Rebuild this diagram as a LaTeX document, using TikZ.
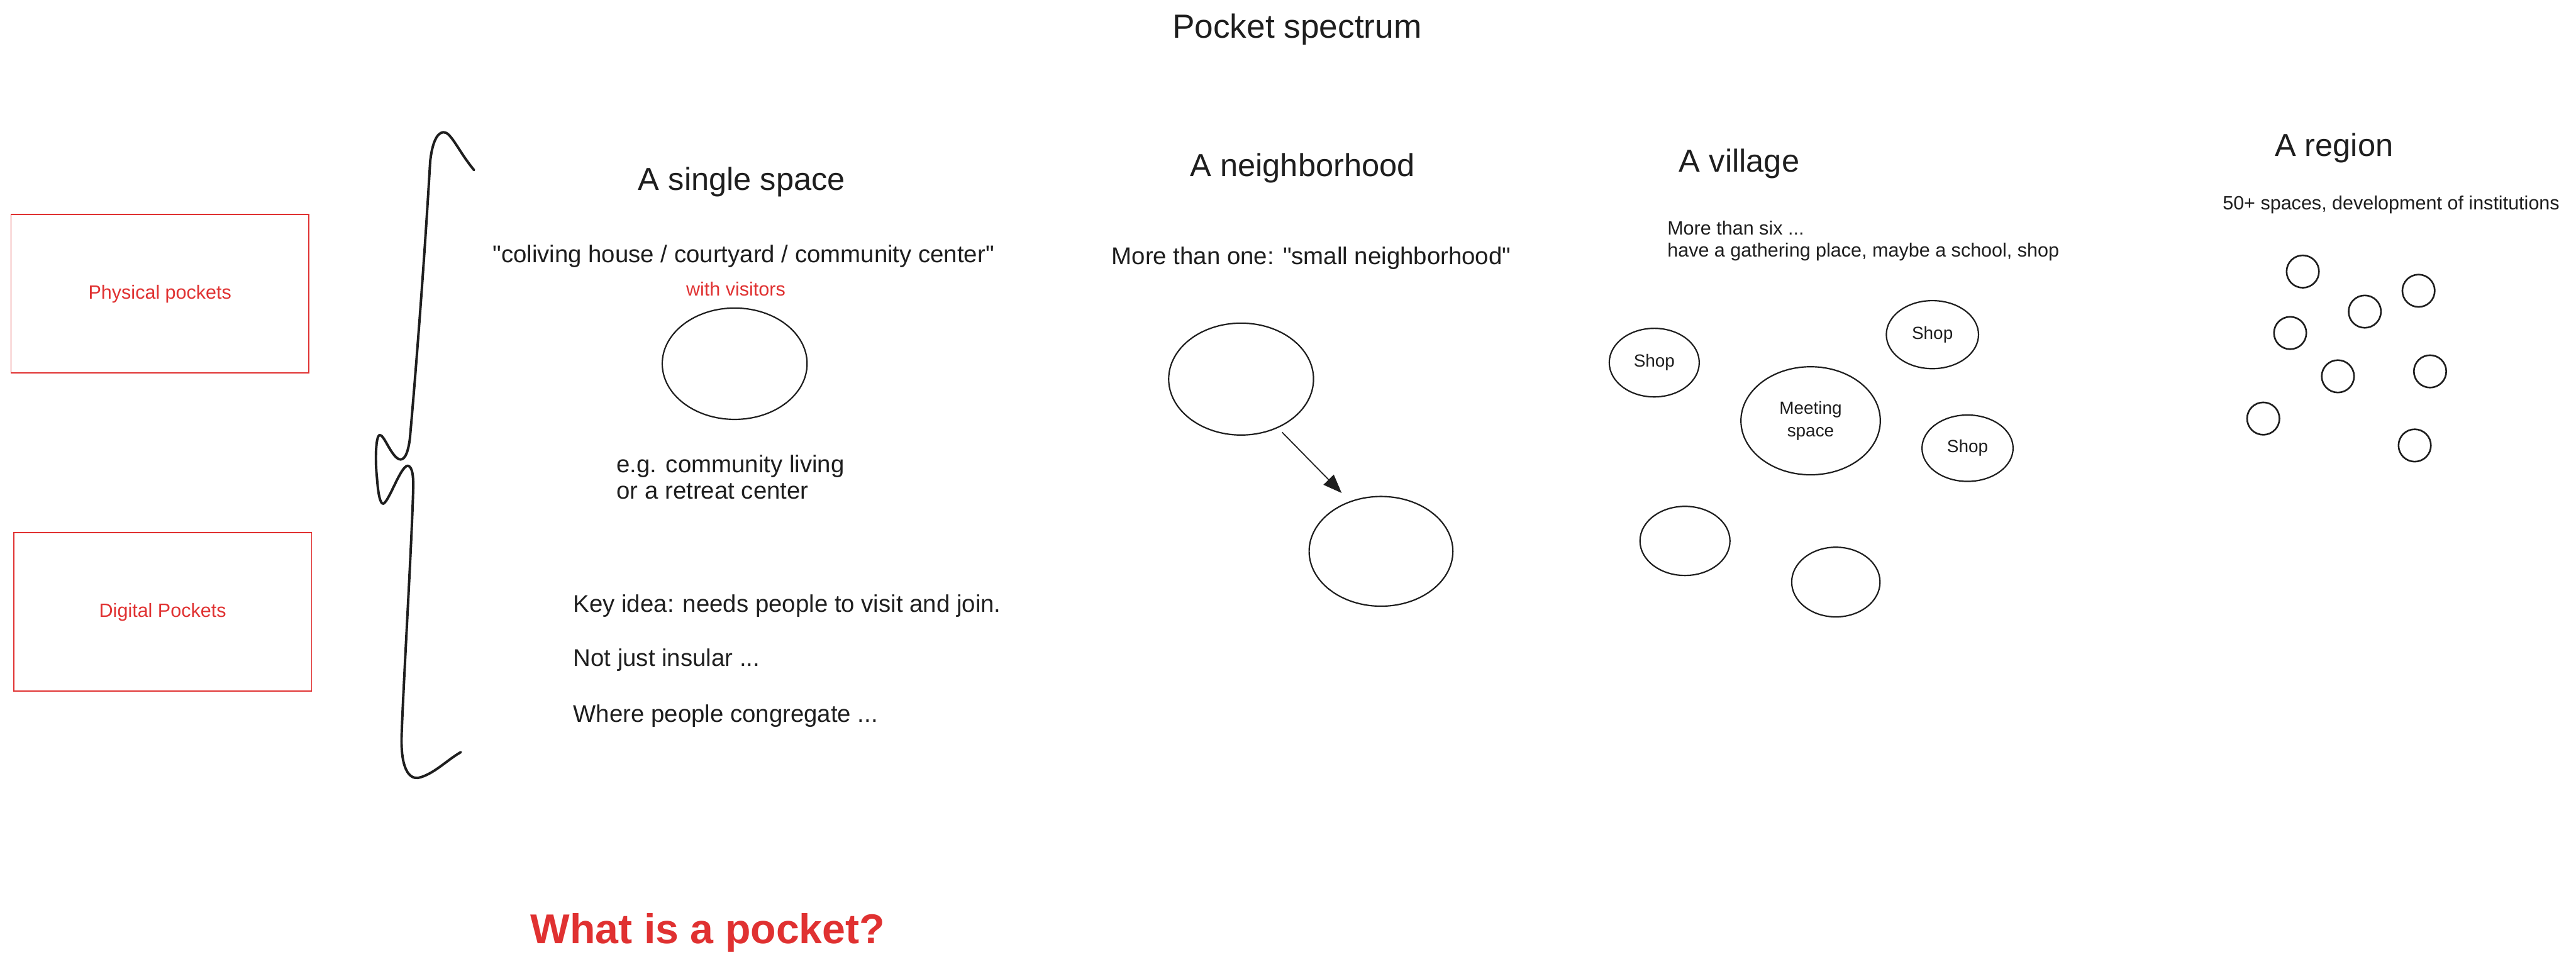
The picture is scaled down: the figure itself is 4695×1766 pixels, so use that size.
\documentclass[tikz,border=0pt]{standalone}
\usepackage{fontspec}
\setmainfont{Liberation Sans}
\usetikzlibrary{shapes.geometric,arrows.meta}
\definecolor{inkc}{HTML}{1E1E1E}
\definecolor{redc}{HTML}{E03131}
\newcommand{\sq}{\XeTeXglyph\XeTeXcharglyph"22\relax}
\tikzset{
  txt/.style={inner sep=0pt, outer sep=0pt, text=inkc},
  titletxt/.style={txt, font=\fontsize{61}{70}\selectfont, text height=44pt, text depth=13pt},
  headtxt/.style={txt, font=\fontsize{58}{66}\selectfont, text height=42pt, text depth=12pt},
  bodytxt/.style={txt, font=\fontsize{44}{50}\selectfont, text height=32pt, text depth=10pt},
  smalltxt/.style={txt, font=\fontsize{35}{40}\selectfont, text height=25pt, text depth=8pt},
  redtxt/.style={text=redc},
  redbox/.style={rectangle, draw=redc, line width=2pt, text=redc, font=\fontsize{35}{40}\selectfont, inner sep=0pt, minimum width=543pt, minimum height=289pt},
  blob/.style={ellipse, draw=inkc, line width=2.5pt, inner sep=0pt, text=inkc, font=\fontsize{32}{41}\selectfont, align=center},
  regdot/.style={circle, draw=inkc, line width=3pt, inner sep=0pt, minimum size=59pt},
  bracestroke/.style={draw=inkc, line width=4.5pt, line cap=round, line join=round},
  linkarrow/.style={draw=inkc, line width=2pt, -{Triangle[length=34pt,width=26pt]}},
}
\begin{document}
\begin{tikzpicture}[x=1pt,y=-1pt]
\fill[white] (0,0) rectangle (4695,1766);
\useasboundingbox (0,0) rectangle (4695,1766);

% title
\node[titletxt] (title) at (2364,54) {Pocket spectrum};

% left boxes
\node[redbox] (phys) at (291.5,535.5) {Physical pockets};
\node[redbox] (digi) at (296.5,1115.5) {Digital Pockets};

% brace
\draw[bracestroke] (864,310) .. controls (835,275) and (822,240) .. (808,241)
  .. controls (795,242) and (787,265) .. (784,295)
  .. controls (772,500) and (756,700) .. (747,800)
  .. controls (743,830) and (736,840) .. (727,837)
  .. controls (712,830) and (700,792) .. (692,793)
  .. controls (684,795) and (684,845) .. (687,870)
  .. controls (689,900) and (693,920) .. (699,918)
  .. controls (710,912) and (730,850) .. (743,849)
  .. controls (752,850) and (754,870) .. (753,895)
  .. controls (750,1000) and (735,1250) .. (732,1340)
  .. controls (730,1400) and (745,1420) .. (762,1418)
  .. controls (790,1412) and (815,1385) .. (840,1371);

% single space
\node[headtxt] (h1) at (1352,332) {A single space};
\node[bodytxt] (t1) at (1355,467) {\sq coliving house / courtyard / community center\sq};
\node[smalltxt, redtxt] (t2) at (1341,531) {with visitors};
\node[blob, minimum width=264pt, minimum height=203pt] (sp) at (1339,663) {};
\node[bodytxt, anchor=west] (t3) at (1124,850) {e.g. community living};
\node[bodytxt, anchor=west] (t4) at (1124,899) {or a retreat center};
\node[bodytxt, anchor=west] (k1) at (1045,1105) {Key idea: needs people to visit and join.};
\node[bodytxt, anchor=west] (k2) at (1045,1204) {Not just insular ...};
\node[bodytxt, anchor=west] (k3) at (1045,1306) {Where people congregate ...};
\node[txt, text=redc, font=\fontsize{76}{84}\selectfont\bfseries] (q) at (1290,1700) {What is a pocket?};

% neighborhood
\node[headtxt] (h2) at (2374,306) {A neighborhood};
\node[bodytxt] (n1) at (2390,471) {More than one: \sq small neighborhood\sq};
\node[blob, minimum width=264pt, minimum height=204pt] (c1) at (2262,691) {};
\node[blob, minimum width=262pt, minimum height=200pt] (c2) at (2517,1005) {};
\draw[linkarrow, shorten <=11pt, shorten >=21pt] (c1.-53) -- (c2.122);

% village
\node[headtxt] (h3) at (3170,298) {A village};
\node[smalltxt, anchor=west] (v1) at (3039,420) {More than six ...};
\node[smalltxt, anchor=west] (v2) at (3039,460) {have a gathering place, maybe a school, shop};
\node[blob, minimum width=164pt, minimum height=125pt] (s1) at (3015,661) {Shop};
\node[blob, minimum width=254pt, minimum height=197pt] (ms) at (3300,767) {Meeting\\space};
\node[blob, minimum width=168pt, minimum height=124pt] (s2) at (3522,610) {Shop};
\node[blob, minimum width=166pt, minimum height=121pt] (s3) at (3586,817) {Shop};
\node[blob, minimum width=164pt, minimum height=126pt] (e1) at (3071,986) {};
\node[blob, minimum width=161pt, minimum height=127pt] (e2) at (3346,1061) {};

% region
\node[headtxt] (h4) at (4254,270) {A region};
\node[smalltxt] (r0) at (4358,374) {50+ spaces, development of institutions};
\node[regdot] (d1) at (4197,495) {};
\node[regdot] (d2) at (4408,530) {};
\node[regdot] (d3) at (4310,568) {};
\node[regdot] (d4) at (4174,607) {};
\node[regdot] (d5) at (4261,686) {};
\node[regdot] (d6) at (4429,677) {};
\node[regdot] (d7) at (4125,763) {};
\node[regdot] (d8) at (4401,812) {};
\end{tikzpicture}
\end{document}
